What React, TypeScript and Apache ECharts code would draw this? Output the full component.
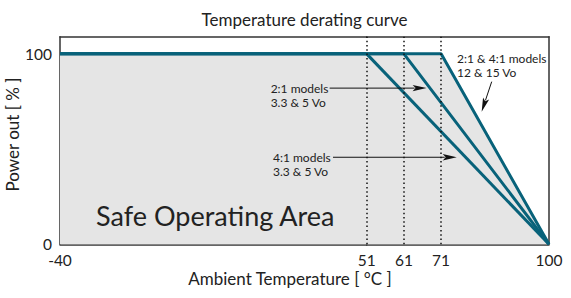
import React, { useEffect, useRef } from "react";
import * as echarts from "echarts";

// ---- data ----
const xBreak = 51;
const xLeftTicks = [-40];
const xRightTicks = [51, 61, 71, 100];
const yTicks = [0, 100];
const xMin = -40;
const xMax = 100;
const yMin = 0;
const yMax = 109;

// derating curves: [ambient temperature, power out %]
const curve41Low = [[-40, 100], [51, 100], [100, 0]];
const curve21Low = [[-40, 100], [51, 100], [61, 100], [100, 0]];
const curveHigh = [[-40, 100], [51, 100], [71, 100], [100, 0]];
const curveNames = [
  "4:1 models 3.3 & 5 Vo",
  "2:1 models 3.3 & 5 Vo",
  "2:1 & 4:1 models 12 & 15 Vo",
];
const derateStarts = [51, 61, 71];

const annotationTexts = [
  ["2:1 models", "3.3 & 5 Vo"],
  ["4:1 models", "3.3 & 5 Vo"],
  ["2:1 & 4:1 models", "12 & 15 Vo"],
];

const FONT = "Lato, 'Noto Sans', sans-serif";
const TEAL = "#08627a";
const INK = "#222";
const AXIS = "#333";

const leftPart = (pts: number[][]) => pts.filter((p) => p[0] <= xBreak);
const rightPart = (pts: number[][]) => pts.filter((p) => p[0] >= xBreak);

function buildOption(): any {
  const gridTop = 36.7;
  const gridH = 207.6;
  const baseAxis = {
    type: "value",
    axisLine: { show: true, onZero: false, lineStyle: { color: AXIS, width: 1.5 } },
    axisTick: { show: false },
    splitLine: { show: false },
  };
  const curves = [curveHigh, curve21Low, curve41Low];
  const names = [curveNames[2], curveNames[1], curveNames[0]];
  const series: any[] = [];
  [0, 1].forEach((g) => {
    curves.forEach((c, i) => {
      const s: any = {
        type: "line",
        name: names[i],
        xAxisIndex: g,
        yAxisIndex: g,
        data: g === 0 ? leftPart(c) : rightPart(c),
        symbol: "none",
        lineStyle: { color: TEAL, width: 3 },
        z: i === 0 ? 1 : 3,
      };
      if (i === 0) {
        s.areaStyle = { color: "#e5e5e5", opacity: 1 };
      }
      if (g === 1 && i === 0) {
        s.markLine = {
          silent: true,
          symbol: ["none", "none"],
          label: { show: false },
          lineStyle: { color: "#111", type: [1.5, 2.8], width: 1.5 },
          data: derateStarts.map((v) => ({ xAxis: v })),
        };
      }
      series.push(s);
    });
  });

  return {
    animation: false,
    backgroundColor: "#fff",
    title: [
      {
        text: "Temperature derating curve",
        left: 304.5,
        top: 11,
        textAlign: "center",
        padding: 0,
        textStyle: { fontFamily: FONT, fontSize: 17, fontWeight: "normal", color: INK },
      },
      {
        text: "Ambient Temperature [ °C ]",
        left: 290,
        top: 270,
        textAlign: "center",
        padding: 0,
        textStyle: { fontFamily: FONT, fontSize: 17, fontWeight: "normal", color: INK },
      },
    ],
    grid: [
      { left: 60, top: gridTop, width: 306.7, height: gridH, outerBoundsMode: "none" },
      { left: 366.7, top: gridTop, width: 182.3, height: gridH, outerBoundsMode: "none" },
    ],
    xAxis: [
      {
        ...baseAxis,
        gridIndex: 0,
        min: xMin,
        max: xBreak,
        axisLabel: { customValues: xLeftTicks, fontFamily: FONT, fontSize: 15.5, color: INK, margin: 8 },
      },
      {
        ...baseAxis,
        gridIndex: 1,
        min: xBreak,
        max: xMax,
        axisLabel: { customValues: xRightTicks, fontFamily: FONT, fontSize: 15.5, color: INK, margin: 8 },
      },
      { ...baseAxis, gridIndex: 0, position: "top", min: xMin, max: xBreak, axisLabel: { show: false } },
      { ...baseAxis, gridIndex: 1, position: "top", min: xBreak, max: xMax, axisLabel: { show: false } },
    ],
    yAxis: [
      {
        ...baseAxis,
        gridIndex: 0,
        min: yMin,
        max: yMax,
        name: "Power out [ % ]",
        nameLocation: "middle",
        nameRotate: 90,
        nameGap: 39,
        nameMoveOverlap: false,
        nameTextStyle: { fontFamily: FONT, fontSize: 17, color: INK, padding: [0, 0, 0, 12] },
        axisLabel: { customValues: yTicks, fontFamily: FONT, fontSize: 15.5, color: INK, margin: 8 },
      },
      {
        ...baseAxis,
        gridIndex: 1,
        position: "right",
        min: yMin,
        max: yMax,
        axisLabel: { show: false },
      },
    ],
    series,
  };
}

type Pt = { g: number; c: number[] };
const annotations: { text: string[]; at: Pt; from: Pt; to: Pt }[] = [
  { text: annotationTexts[0], at: { g: 0, c: [22.5, 82] }, from: { g: 0, c: [40, 82] }, to: { g: 1, c: [67.1, 82] } },
  { text: annotationTexts[1], at: { g: 0, c: [23.2, 45.7] }, from: { g: 0, c: [41, 45.7] }, to: { g: 1, c: [75.2, 45.7] } },
  { text: annotationTexts[2], at: { g: 1, c: [75.3, 97.7] }, from: { g: 1, c: [84.6, 85.4] }, to: { g: 1, c: [81.9, 69.6] } },
];
const areaLabel = { text: "Safe Operating Area", at: { g: 0, c: [-29.3, 14.9] } };

export default function App() {
  const ref = useRef<HTMLDivElement>(null);
  useEffect(() => {
    const chart = echarts.init(ref.current!, null, { renderer: "svg" });
    chart.setOption(buildOption());
    const px = (p: Pt) => chart.convertToPixel({ gridIndex: p.g } as any, p.c) as number[];
    const graphics: any[] = [];
    const arrow = (p0: number[], p1: number[]) => {
      const dx = p1[0] - p0[0];
      const dy = p1[1] - p0[1];
      const L = Math.hypot(dx, dy);
      const ux = dx / L;
      const uy = dy / L;
      const hl = 14;
      const hw = 3.2;
      const bx = p1[0] - ux * hl;
      const by = p1[1] - uy * hl;
      graphics.push({
        type: "line",
        silent: true,
        z: 10,
        shape: { x1: p0[0], y1: p0[1], x2: bx + ux * 2, y2: by + uy * 2 },
        style: { stroke: "#111", lineWidth: 1 },
      });
      graphics.push({
        type: "polygon",
        silent: true,
        z: 10,
        shape: {
          points: [
            [p1[0], p1[1]],
            [bx - uy * hw, by + ux * hw],
            [bx + ux * 3, by + uy * 3],
            [bx + uy * hw, by - ux * hw],
          ],
        },
        style: { fill: "#111" },
      });
    };
    annotations.forEach((a) => {
      const t = px(a.at);
      graphics.push({
        type: "text",
        silent: true,
        z: 10,
        x: t[0],
        y: t[1] - 7.25,
        style: {
          text: a.text.join("\n"),
          fontFamily: FONT,
          fontSize: 12,
          lineHeight: 14.5,
          fill: INK,
          align: "left",
          verticalAlign: "top",
        },
      });
      arrow(px(a.from), px(a.to));
    });
    const s = px(areaLabel.at);
    graphics.push({
      type: "text",
      silent: true,
      z: 10,
      x: s[0],
      y: s[1],
      style: {
        text: areaLabel.text,
        fontFamily: FONT,
        fontSize: 27,
        fill: INK,
        align: "left",
        verticalAlign: "middle",
      },
    });
    chart.setOption({ graphic: graphics });
    return () => chart.dispose();
  }, []);
  return (
    <div
      ref={ref}
      style={{ position: "fixed", left: 0, top: 0, width: 571, height: 298, background: "#fff" }}
    />
  );
}
